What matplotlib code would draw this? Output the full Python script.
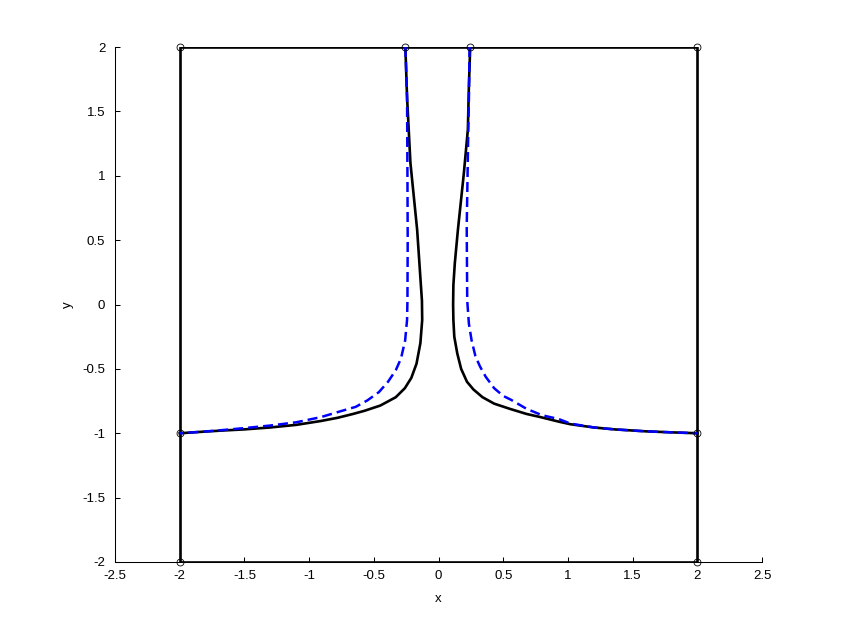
import numpy as np
import matplotlib
matplotlib.use('Agg')
import matplotlib.pyplot as plt

plt.rcParams['font.family'] = ['Liberation Sans', 'DejaVu Sans']

# domain outline and its marked vertices
box_x = [-2, 2, 2, -2, -2]
box_y = [-2, -2, 2, 2, -2]
node_x = [-2, 2, 2, -2, -2, 2, -0.256, 0.24]
node_y = [-2, -2, 2, 2, -1, -1, 2, 2]

# solid black curves
black_right_x = [0.245, 0.235, 0.227, 0.196, 0.15, 0.126, 0.115, 0.113, 0.115, 0.122, 0.145, 0.175,
                 0.22, 0.27, 0.34, 0.43, 0.55, 0.68, 0.79, 0.93, 1.02, 1.20, 1.36, 1.60, 1.80, 2.00]
black_right_y = [2.0, 1.7, 1.36, 1.02, 0.58, 0.32, 0.15, 0.0, -0.12, -0.25, -0.38, -0.5,
                 -0.6, -0.66, -0.72, -0.77, -0.81, -0.85, -0.875, -0.91, -0.93, -0.955, -0.97,
                 -0.985, -0.993, -1.0]
black_left_x = [-0.256, -0.243, -0.217, -0.165, -0.128, -0.126, -0.14, -0.17, -0.21, -0.26, -0.33,
                -0.45, -0.57, -0.66, -0.78, -0.91, -1.10, -1.30, -1.50, -1.69, -1.85, -2.00]
black_left_y = [2.0, 1.61, 1.1, 0.58, 0.03, -0.12, -0.3, -0.46, -0.57, -0.65, -0.72,
                -0.785, -0.825, -0.85, -0.88, -0.905, -0.935, -0.955, -0.97, -0.98, -0.99, -1.0]

# dashed blue curves
blue_right_x = [0.24, 0.235, 0.23, 0.222, 0.218, 0.222, 0.235, 0.256, 0.285, 0.32, 0.364, 0.43,
                0.50, 0.56, 0.68, 0.80, 0.93, 1.02, 1.20, 1.36, 1.60, 1.80, 2.00]
blue_right_y = [2.0, 1.6, 1.36, 0.84, 0.6, 0.03, -0.15, -0.28, -0.40, -0.48, -0.56, -0.65,
                -0.71, -0.74, -0.81, -0.86, -0.89, -0.925, -0.955, -0.97, -0.985, -0.993, -1.0]
blue_left_x = [-0.256, -0.243, -0.24, -0.238, -0.24, -0.243, -0.258, -0.29, -0.33, -0.39, -0.46,
               -0.55, -0.64, -0.76, -0.91, -1.10, -1.30, -1.50, -1.70, -1.85, -2.00]
blue_left_y = [2.0, 1.61, 1.0, 0.5, 0.03, -0.12, -0.28, -0.42, -0.51, -0.6, -0.68,
               -0.745, -0.795, -0.83, -0.875, -0.915, -0.94, -0.96, -0.978, -0.99, -1.0]

xticks = [-2.5, -2, -1.5, -1, -0.5, 0, 0.5, 1, 1.5, 2, 2.5]
yticks = [-2, -1.5, -1, -0.5, 0, 0.5, 1, 1.5, 2]

fig = plt.figure(figsize=(8.58, 6.32), dpi=100)
ax = fig.add_axes([115 / 858, 70 / 632, 647 / 858, 515 / 632])

ax.plot(box_x, box_y, color='black', lw=1.9, solid_capstyle='butt')
ax.plot(black_right_x, black_right_y, color='black', lw=1.9, solid_joinstyle='round')
ax.plot(black_left_x, black_left_y, color='black', lw=1.9, solid_joinstyle='round')
ax.plot(blue_right_x, blue_right_y, color='blue', lw=1.8, dashes=(4, 2))
ax.plot(blue_left_x, blue_left_y, color='blue', lw=1.8, dashes=(4, 2))
ax.plot(node_x, node_y, ls='none', marker='o', ms=5, mfc='none', mec='black', mew=0.6,
        clip_on=False, zorder=5)

ax.set_xlim(-2.5, 2.5)
ax.set_ylim(-2, 2)
ax.set_xticks(xticks)
ax.set_yticks(yticks)
ax.set_xticklabels(['%g' % v for v in xticks])
ax.set_yticklabels(['%g' % v for v in yticks])

for side in ['top', 'right']:
    ax.spines[side].set_visible(False)
for side in ['left', 'bottom']:
    ax.spines[side].set_linewidth(0.75)
ax.tick_params(direction='in', length=3.5, width=0.75, labelsize=9.5)
ax.tick_params(axis='y', pad=7)
ax.tick_params(axis='x', pad=6)

ax.set_xlabel('x', fontsize=9.5, labelpad=8)
ax.set_ylabel('y', fontsize=9.5, labelpad=6)

fig.savefig('out.png', dpi=100)
